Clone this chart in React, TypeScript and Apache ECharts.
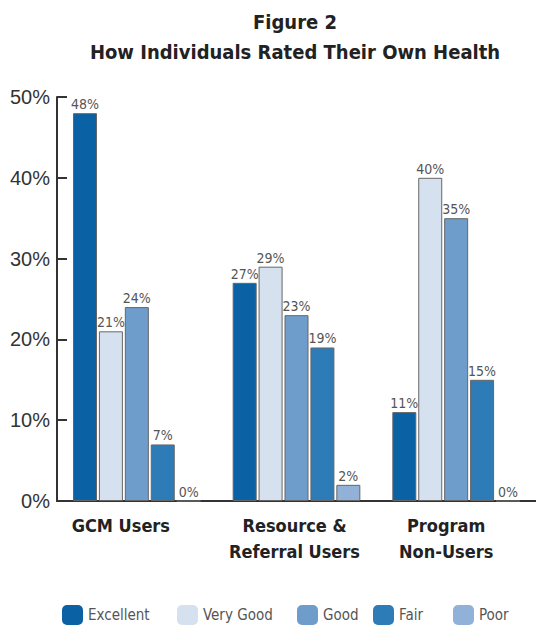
import React, { useEffect, useRef } from "react";
import * as echarts from "echarts";

const categories = ["GCM Users", "Resource &\nReferral Users", "Program\nNon-Users"];
const seriesNames = ["Excellent", "Very Good", "Good", "Fair", "Poor"];
const excellent = [48, 27, 11];
const veryGood = [21, 29, 40];
const good = [24, 23, 35];
const fair = [7, 19, 15];
const poor = [0, 2, 0];
const yTicks = [0, 10, 20, 30, 40, 50];

const colors = ["#0a62a4", "#d5e1ef", "#6f9dcb", "#2d7cb8", "#92b1d9"];
const legendLefts = [62, 177, 297, 373, 453];
const labelShift = [32, 4, 20];

const NARROW = "'DejaVu Sans Condensed', 'Liberation Sans Narrow', sans-serif";

export default function App() {
  const ref = useRef<HTMLDivElement>(null);
  useEffect(() => {
    if (!ref.current) return;
    const chart = echarts.init(ref.current, undefined, { renderer: "svg" });
    const values = [excellent, veryGood, good, fair, poor];
    const option: any = {
      animation: false,
      backgroundColor: "#ffffff",
      title: {
        text: "Figure 2\nHow Individuals Rated Their Own Health",
        left: 290,
        top: 2,
        textAlign: "center",
        textStyle: {
          fontFamily: NARROW,
          fontWeight: "bold",
          fontSize: 20,
          lineHeight: 30,
          color: "#222",
        },
      },
      legend: seriesNames.map((n, i) => ({
        data: [n],
        left: legendLefts[i],
        top: 605,
        itemWidth: 21,
        itemHeight: 20,
        itemGap: 0,
        padding: 0,
        itemStyle: { borderWidth: 0 },
        textStyle: { fontFamily: NARROW, fontSize: 15, color: "#555" },
        selectedMode: false,
      })),
      grid: { left: 57, right: 0, top: 97, bottom: 127, containLabel: false },
      xAxis: {
        type: "category",
        data: categories.map((c, i) => ({
          value: c,
          textStyle: { padding: [0, labelShift[i], 0, 0] },
        })),
        axisLine: { lineStyle: { color: "#333", width: 2 } },
        axisTick: { inside: true, length: 10, lineStyle: { color: "#333", width: 2 } },
        axisLabel: {
          margin: 11,
          fontFamily: NARROW,
          fontWeight: "bold",
          fontSize: 18,
          lineHeight: 26,
          color: "#222",
          interval: 0,
        },
      },
      yAxis: {
        type: "value",
        min: yTicks[0],
        max: yTicks[yTicks.length - 1],
        interval: 10,
        axisLine: { show: true, lineStyle: { color: "#333", width: 2 } },
        axisTick: { show: true, inside: true, length: 10, lineStyle: { color: "#333", width: 2 } },
        splitLine: { show: false },
        axisLabel: {
          formatter: "{value}%",
          margin: 7,
          fontFamily: "'Liberation Sans', Arial, sans-serif",
          fontSize: 20,
          color: "#333",
        },
      },
      series: seriesNames.map((n, i) => ({
        name: n,
        type: "bar",
        data: values[i],
        barWidth: 24,
        barGap: "8%",
        itemStyle: { color: colors[i], borderColor: "#666", borderWidth: 1 },
        label: {
          show: true,
          position: "top",
          distance: 2,
          formatter: "{c}%",
          fontFamily: NARROW,
          fontSize: 14,
          color: "#555",
        },
      })),
    };
    chart.setOption(option);
    return () => chart.dispose();
  }, []);
  return (
    <div
      ref={ref}
      style={{ position: "fixed", left: 0, top: 0, width: 536, height: 628, background: "#fff" }}
    />
  );
}
